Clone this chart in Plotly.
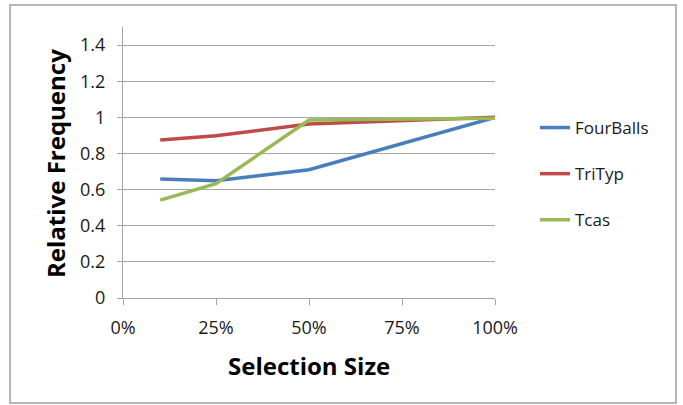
import plotly.graph_objects as go

selection = [0.10, 0.25, 0.50, 1.00]
fourballs = [0.659, 0.649, 0.71, 1.0]
trityp = [0.874, 0.898, 0.963, 1.0]
tcas = [0.542, 0.633, 0.985, 0.995]
series_names = ["FourBalls", "TriTyp", "Tcas"]
series_colors = ["#4A7EBB", "#BE4B48", "#98B954"]
x_ticks = [0, 0.25, 0.5, 0.75, 1.0]
x_ticklabels = ["0%", "25%", "50%", "75%", "100%"]
y_ticks = [0, 0.2, 0.4, 0.6, 0.8, 1.0, 1.2, 1.4]
y_ticklabels = ["0", "0.2", "0.4", "0.6", "0.8", "1", "1.2", "1.4"]

FONT = "'Open Sans', sans-serif"
W, H = 683, 405
L, R, T, B = 123, 683 - 495, 27, 405 - 298
PW, PH = W - L - R, H - T - B

fig = go.Figure()
for i, (name, vals, col) in enumerate(zip(series_names, [fourballs, trityp, tcas], series_colors)):
    fig.add_trace(go.Scatter(x=selection, y=vals, name=name, mode="lines",
                             line=dict(color=col, width=3.5), legendgroup=f"g{i}"))

grid = "#A6A6A6"
fig.update_layout(
    width=W, height=H,
    margin=dict(l=L, r=R, t=T, b=B),
    paper_bgcolor="white", plot_bgcolor="white",
    font=dict(family=FONT, size=18, color="#1a1a1a"),
    showlegend=True,
    legend=dict(x=(535 - L) / PW, y=(298 - 174) / PH, xanchor="left", yanchor="middle",
                font=dict(family=FONT, size=17, color="#1a1a1a"),
                tracegroupgap=21, bgcolor="rgba(0,0,0,0)"),
    xaxis=dict(range=[0, 1], tickvals=x_ticks, ticktext=x_ticklabels,
               showgrid=False, zeroline=False, showline=True, linecolor=grid, linewidth=1.3,
               ticks="outside", ticklen=6, tickcolor=grid, tickwidth=1.3,
               ticklabelstandoff=7, fixedrange=True),
    yaxis=dict(range=[0, 1.5], tickvals=y_ticks, ticktext=y_ticklabels,
               showgrid=True, gridcolor=grid, gridwidth=1.3, zeroline=False,
               showline=True, linecolor=grid, linewidth=1.3,
               ticks="outside", ticklen=5, tickcolor=grid, tickwidth=1.3,
               ticklabelstandoff=8, fixedrange=True),
    annotations=[
        dict(text="<b>Selection Size</b>", xref="paper", yref="paper",
             x=(309 - L) / PW, y=-(365 - 298) / PH, xanchor="center", yanchor="middle",
             showarrow=False, font=dict(family=FONT, size=24, color="#000")),
        dict(text="<b>Relative Frequency</b>", xref="paper", yref="paper",
             x=-(L - 55) / PW, y=(298 - 164) / PH, xanchor="center", yanchor="middle",
             textangle=-90, showarrow=False, font=dict(family=FONT, size=24, color="#000")),
    ],
    shapes=[dict(type="rect", xref="paper", yref="paper",
                 x0=(10 - L) / PW, x1=(676 - L) / PW,
                 y0=(298 - 403) / PH, y1=(298 - 5) / PH,
                 line=dict(color="#9E9E9E", width=1.5), layer="below")],
)

fig.write_html("out.html")
